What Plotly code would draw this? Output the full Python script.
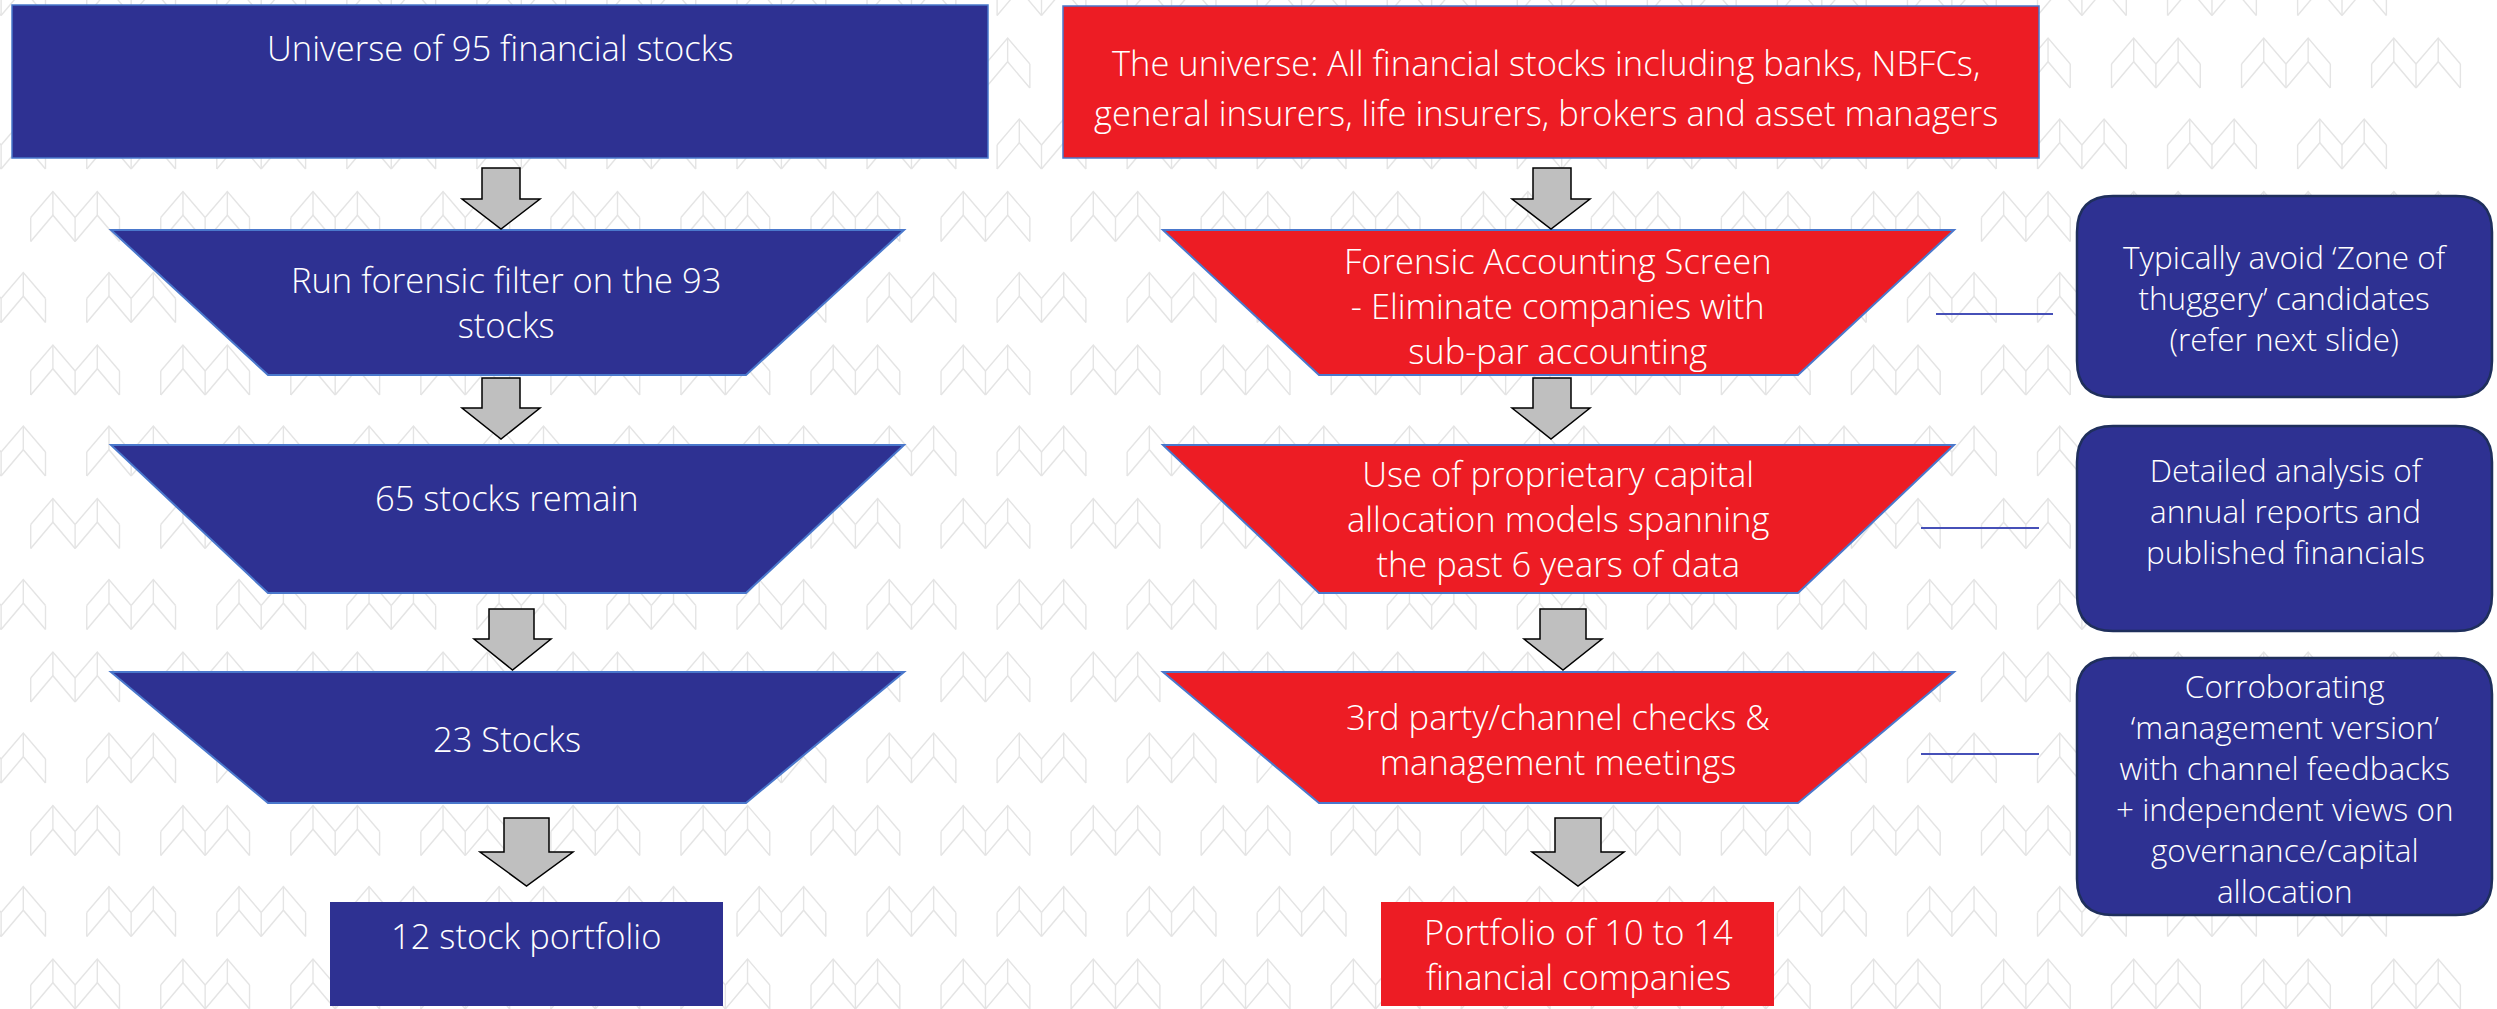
import plotly.graph_objects as go

W, H = 2497, 1009

# ---------------- text content ----------------
left_labels = [
    ["Universe of 95 financial stocks"],
    ["Run forensic filter on the 93", "stocks"],
    ["65 stocks remain"],
    ["23 Stocks"],
    ["12 stock portfolio"],
]
right_labels = [
    ["The universe: All financial stocks including banks, NBFCs,",
     "general insurers, life insurers, brokers and asset managers"],
    ["Forensic Accounting Screen", "- Eliminate companies with", "sub-par accounting"],
    ["Use of proprietary capital", "allocation models spanning", "the past 6 years of data"],
    ["3rd party/channel checks &", "management meetings"],
    ["Portfolio of 10 to 14", "financial companies"],
]
side_notes = [
    ["Typically avoid \u2018Zone of", "thuggery\u2019 candidates", "(refer next slide)"],
    ["Detailed analysis of", "annual reports and", "published financials"],
    ["Corroborating", "\u2018management version\u2019", "with channel feedbacks",
     "+ independent views on", "governance/capital", "allocation"],
]

# ---------------- layout geometry (pixels) ----------------
BLUE = "#2E3192"
RED = "#ED1C24"
EDGE = "#4A78CC"
FONT = "Open Sans"
MAIN_SIZE = 34.5
SIDE_SIZE = 31.5

left_shapes = [
    ("rect", (12, 5, 988, 158)),
    ("trap", (111, 904, 230, 268, 746, 375)),
    ("trap", (111, 904, 445, 268, 746, 593)),
    ("trap", (111, 904, 672, 268, 746, 803)),
    ("rect", (330, 902, 723, 1006)),
]
# (center x, center y of text block)
left_text_pos = [(500, 47), (506, 302), (507, 497), (507, 738), (526, 935)]

right_shapes = [
    ("rect", (1063, 6, 2039, 158)),
    ("trap", (1163, 1954, 230, 1319, 1798, 375)),
    ("trap", (1163, 1954, 445, 1319, 1798, 593)),
    ("trap", (1163, 1954, 672, 1319, 1798, 803)),
    ("rect", (1381, 902, 1774, 1006)),
]
right_text_pos = [(1546, 87), (1558, 305), (1558, 518), (1558, 739), (1578, 954)]

# arrows: shaft x1, x2, shaft top, head y, head x1, head x2, tip y
arrows = [
    (482, 520, 168, 199, 462, 540, 229),
    (482, 520, 378, 408, 462, 540, 439),
    (489, 534, 609, 639, 474, 551, 670),
    (504, 549, 818, 852, 480, 573, 886),
    (1533, 1571, 168, 199, 1512, 1590, 229),
    (1533, 1571, 378, 408, 1512, 1590, 439),
    (1540, 1586, 609, 639, 1524, 1602, 670),
    (1555, 1601, 818, 852, 1532, 1624, 886),
]

side_boxes = [(2077, 196, 2492, 397), (2077, 426, 2492, 631), (2077, 658, 2492, 915)]
side_text_pos = [(2285, 297), (2285, 510), (2285, 788)]
connectors = [(1936, 2053, 314), (1921, 2039, 528), (1921, 2039, 754)]

# ---------------- background watermark pattern ----------------
px, py = [], []


def seg(pts):
    for (a, b) in pts:
        px.append(a)
        py.append(b)
    px.append(None)
    py.append(None)


def motif(x0, y0):
    w = 22.2
    for cx in (x0 + w, x0 + 3 * w):
        seg([(cx - w, y0 + 26), (cx, y0), (cx + w, y0 + 26)])
        seg([(cx - w, y0 + 50), (cx, y0 + 23.7), (cx + w, y0 + 50)])
        seg([(cx, y0), (cx, y0 + 23.7)])
    for xx in (x0, x0 + 2 * w, x0 + 4 * w):
        seg([(xx, y0 + 26), (xx, y0 + 50)])


for k in range(-1, 8):
    for (ybase, xbase) in ((38.0, 30.7), (-34.5, -43.3)):
        y0 = ybase + 153.5 * k
        if y0 + 50 < 0 or y0 > H:
            continue
        j = 0
        while True:
            x0 = xbase + 130.05 * j
            if x0 > 2420:
                break
            motif(x0, y0)
            j += 1

fig = go.Figure()
fig.add_trace(go.Scatter(x=px, y=py, mode="lines",
                         line=dict(color="#E4E4E4", width=1.4),
                         hoverinfo="skip", showlegend=False))

shapes = []
annotations = []


def add_box(kind, g, fill, edge):
    if kind == "rect":
        x0, y0, x1, y1 = g
        shapes.append(dict(type="rect", x0=x0, y0=y0, x1=x1, y1=y1,
                           fillcolor=fill, line=dict(color=edge, width=1.5 if edge else 0)))
    else:
        tx1, tx2, ty, bx1, bx2, by = g
        shapes.append(dict(type="path",
                           path=f"M {tx1},{ty} L {tx2},{ty} L {bx2},{by} L {bx1},{by} Z",
                           fillcolor=fill, line=dict(color=edge, width=2)))


def add_text(lines, pos, size):
    cx, cy = pos
    annotations.append(dict(x=cx, y=cy, text="<br>".join(lines), showarrow=False,
                            xanchor="center", yanchor="middle", align="center",
                            font=dict(family=FONT, size=size, color="white", weight=300)))


for i, (kind, g) in enumerate(left_shapes):
    add_box(kind, g, BLUE, EDGE if i < 4 else None)
    add_text(left_labels[i], left_text_pos[i], MAIN_SIZE)

for i, (kind, g) in enumerate(right_shapes):
    add_box(kind, g, RED, EDGE if i < 4 else None)
    if i == 0:
        # wider line pitch in the header box: one annotation per line
        cx, cy = right_text_pos[i]
        for line, dy in zip(right_labels[i], (-25, 25)):
            add_text([line], (cx, cy + dy), MAIN_SIZE)
    else:
        add_text(right_labels[i], right_text_pos[i], MAIN_SIZE)

for (x1, x2, st, hy, hx1, hx2, ty) in arrows:
    tip = (hx1 + hx2) / 2
    shapes.append(dict(type="path",
                       path=(f"M {x1},{st} L {x2},{st} L {x2},{hy} L {hx2},{hy} "
                             f"L {tip},{ty} L {hx1},{hy} L {x1},{hy} Z"),
                       fillcolor="#BFBFBF", line=dict(color="black", width=1.5)))

r = 36
for i, (x0, y0, x1, y1) in enumerate(side_boxes):
    path = (f"M {x0 + r},{y0} L {x1 - r},{y0} Q {x1},{y0} {x1},{y0 + r} "
            f"L {x1},{y1 - r} Q {x1},{y1} {x1 - r},{y1} L {x0 + r},{y1} "
            f"Q {x0},{y1} {x0},{y1 - r} L {x0},{y0 + r} Q {x0},{y0} {x0 + r},{y0} Z")
    shapes.append(dict(type="path", path=path, fillcolor=BLUE,
                       line=dict(color="#1F2F5C", width=2.5)))
    add_text(side_notes[i], side_text_pos[i], SIDE_SIZE)

for (x1, x2, yy) in connectors:
    shapes.append(dict(type="line", x0=x1, x1=x2, y0=yy, y1=yy,
                       line=dict(color="#4650B8", width=2)))

fig.update_layout(
    width=W, height=H,
    margin=dict(l=0, r=0, t=0, b=0),
    paper_bgcolor="white", plot_bgcolor="white",
    xaxis=dict(range=[0, W], visible=False, fixedrange=True),
    yaxis=dict(range=[H, 0], visible=False, fixedrange=True),
    shapes=shapes, annotations=annotations,
    showlegend=False,
)

fig.write_html("out.html", config={"displayModeBar": False},
               post_script="document.body.style.margin='0';document.body.style.overflow='hidden';")
